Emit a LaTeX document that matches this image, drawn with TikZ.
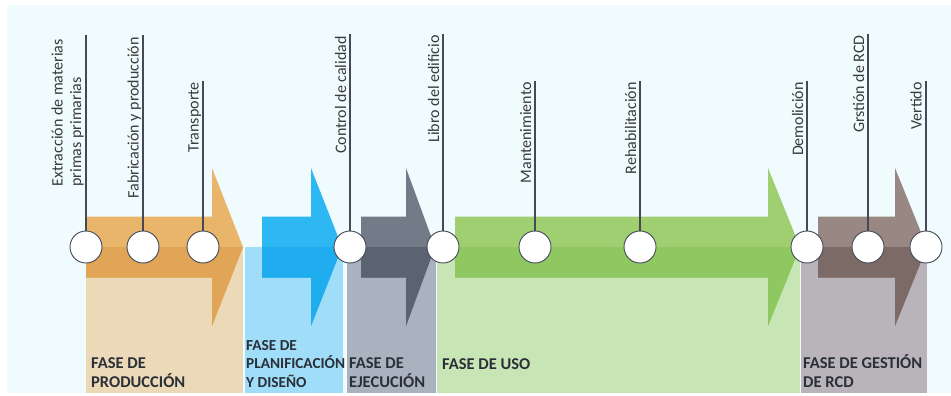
\documentclass[tikz,border=0pt]{standalone}
\usepackage{fontspec}
\setmainfont{Carlito}
\definecolor{bgc}{HTML}{EFFBFC}
\definecolor{orgT}{HTML}{E8B56B}
\definecolor{orgB}{HTML}{E0A556}
\definecolor{orgBox}{HTML}{ECD9B7}
\definecolor{bluT}{HTML}{2DB8F4}
\definecolor{bluB}{HTML}{1FADEF}
\definecolor{bluBox}{HTML}{9FDDF8}
\definecolor{gryT}{HTML}{737A88}
\definecolor{gryB}{HTML}{5C6370}
\definecolor{gryBox}{HTML}{A9B3BF}
\definecolor{grnT}{HTML}{A0CF72}
\definecolor{grnB}{HTML}{8FC761}
\definecolor{grnBox}{HTML}{C8E6B5}
\definecolor{brnT}{HTML}{998784}
\definecolor{brnB}{HTML}{7C6A67}
\definecolor{brnBox}{HTML}{B8B4BA}
\definecolor{stem}{HTML}{444955}
\definecolor{labtxt}{HTML}{3A3A3A}
\definecolor{phasetxt}{HTML}{2B2F38}
\begin{document}
\begin{tikzpicture}[x=1pt,y=-1pt,
  milestone/.style={circle,fill=white,draw=stem,line width=0.9pt,minimum size=32pt,inner sep=0},
  stemline/.style={draw=stem,line width=1.2pt},
  vlabel/.style={rotate=90,inner sep=0,text=labtxt,font=\fontsize{16}{18.5}\selectfont},
  phaselabel/.style={inner sep=0,align=left,text=phasetxt,font=\bfseries\fontsize{16.5}{18.5}\selectfont}]
\useasboundingbox (0,0) rectangle (951,396);
\fill[white] (0,0) rectangle (951,396);
\fill[bgc] (7,5) rectangle (951,393);

% phase boxes below the time axis
\fill[orgBox] (86,247) rectangle (243,393);
\fill[bluBox] (245,247) rectangle (343,393);
\fill[gryBox] (347,247) rectangle (436,393);
\fill[grnBox] (437,247) rectangle (800,393);
\fill[brnBox] (801,247) rectangle (927,393);

% phase arrows, lighter above the axis and darker below it
\foreach \a/\b/\c/\up/\dn in {86/212/243/orgT/orgB, 262/311/342/bluT/bluB,
    361/406/435/gryT/gryB, 455/768/800/grnT/grnB, 818/895/927/brnT/brnB}{
  \fill[\up] (\a,216.5) -- (\b,216.5) -- (\b,168) -- (\c,247) -- (\b,326)
    -- (\b,277.5) -- (\a,277.5) -- cycle;
  \begin{scope}
    \clip (\a,247) rectangle (\c,330);
    \fill[\dn] (\a,216.5) -- (\b,216.5) -- (\b,168) -- (\c,247) -- (\b,326)
      -- (\b,277.5) -- (\a,277.5) -- cycle;
  \end{scope}
}

% milestones on the axis
\foreach \n/\x/\t in {1/86/35, 2/143/35, 3/203/81, 4/350/34, 5/443/34,
    6/535/81, 7/640/81, 8/807/81, 9/868/34, 10/926/81}{
  \coordinate (t\n) at (\x,\t);
  \node[milestone] (c\n) at (\x,247) {};
  \draw[stemline] (t\n) -- (c\n.north);
}

% milestone labels
\node[vlabel,align=left,anchor=south east] (l1) at (84,39)
  {Extracción de materias\\primas primarias};
\node[vlabel,anchor=base east] (l2) at (138.5,37) {Fabricación y producción};
\node[vlabel,anchor=base east] (l3) at (198.5,82) {Transporte};
\node[vlabel,anchor=base east] (l4) at (346,36) {Control de calidad};
\node[vlabel,anchor=base east] (l5) at (439,35) {Libro del edificio};
\node[vlabel,anchor=base east] (l6) at (531,82) {Mantenimiento};
\node[vlabel,anchor=base east] (l7) at (636,82) {Rehabilitación};
\node[vlabel,anchor=base east] (l8) at (803,82) {Demolición};
\node[vlabel,anchor=base east] (l9) at (864,35) {Grstión de RCD};
\node[vlabel,anchor=base east] (l10) at (921.5,82) {Vertido};

% phase names (base anchor sits on the last line)
\node[phaselabel,anchor=base west] (p1) at (91,387) {FASE DE\\PRODUCCIÓN};
\node[phaselabel,anchor=base west,font=\bfseries\fontsize{15.3}{18.5}\selectfont]
  (p2) at (246,387) {FASE DE\\PLANIFICACIÓN\\Y DISEÑO};
\node[phaselabel,anchor=base west] (p3) at (349,387) {FASE DE\\EJECUCIÓN};
\node[phaselabel,anchor=base west] (p4) at (442,369) {FASE DE USO};
\node[phaselabel,anchor=base west] (p5) at (803,387) {FASE DE GESTIÓN\\DE RCD};
\end{tikzpicture}
\end{document}
